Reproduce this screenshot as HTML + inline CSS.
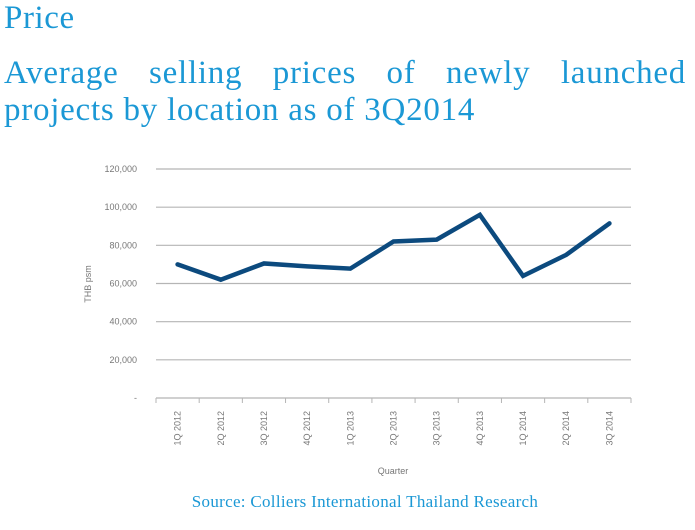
<!DOCTYPE html>
<html><head><meta charset="utf-8"><style>
body{margin:0;width:695px;height:530px;background:#fff;overflow:hidden;position:relative;font-family:"Liberation Serif",serif;color:#1b98d5}
#t1{position:absolute;left:4px;top:0px;font-size:33px;line-height:36px;letter-spacing:0.6px}
.tl{position:absolute;left:4px;width:682px;font-size:33px;line-height:37px;white-space:nowrap;letter-spacing:0.75px}
#t2a{top:55px;text-align:justify;text-align-last:justify}
#t2b{top:92px}
#src{position:absolute;left:0;width:730px;top:492px;text-align:center;font-size:17px;letter-spacing:0.3px}
svg{position:absolute;left:0;top:0}
</style></head><body>
<div id="t1">Price</div>
<div id="t2a" class="tl">Average selling prices of newly launched</div>
<div id="t2b" class="tl">projects by location as of 3Q2014</div>
<svg id="c" width="695" height="530"></svg>
<div id="src">Source: Colliers International Thailand Research</div>
<script>
const categories=["1Q 2012","2Q 2012","3Q 2012","4Q 2012","1Q 2013","2Q 2013","3Q 2013","4Q 2013","1Q 2014","2Q 2014","3Q 2014"];
const values=[70000,62000,70500,69000,67800,82000,83000,96000,64000,75000,91500];
const yTicks=[0,20000,40000,60000,80000,100000,120000];
const yTickLabels=["-","20,000","40,000","60,000","80,000","100,000","120,000"];
const NS="http://www.w3.org/2000/svg";
const svg=document.getElementById('c');
const L=156,R=631,T=169,B=398,ymax=120000;
const step=(R-L)/categories.length;
const xs=i=>L+step*(i+0.5);
const ys=v=>B-(v/ymax)*(B-T);
function mk(tag,attrs){const e=document.createElementNS(NS,tag);for(const k in attrs)e.setAttribute(k,attrs[k]);svg.appendChild(e);return e;}
yTicks.forEach((v,i)=>{
  if(v>0){const g=mk('line',{x1:L,x2:R,y1:ys(v),y2:ys(v),stroke:'#b5b5b5','stroke-width':1.2});
  
  }
  const t=mk('text',{x:137,y:ys(v)+3,'text-anchor':'end','font-size':9,fill:'#777','font-family':'Liberation Sans, sans-serif'});
  t.textContent=yTickLabels[i];
  
  
});
const ax=mk('line',{x1:L,x2:R,y1:B,y2:B,stroke:'#b5b5b5','stroke-width':1.2});


for(let i=0;i<=categories.length;i++){mk('line',{x1:L+step*i,x2:L+step*i,y1:B,y2:B+5,stroke:'#b5b5b5'});}
categories.forEach((c,i)=>{
  const t=mk('text',{transform:`translate(${xs(i)+3},${B+13}) rotate(-90)`,'text-anchor':'end','font-size':9,fill:'#777','font-family':'Liberation Sans, sans-serif'});
  t.textContent=c;
  
  
});
const p=mk('polyline',{points:values.map((v,i)=>xs(i)+','+ys(v)).join(' '),fill:'none',stroke:'#0c4a7e','stroke-width':4.5,'stroke-linejoin':'miter','stroke-linecap':'round'});


const yt=mk('text',{transform:'translate(91,284) rotate(-90)','text-anchor':'middle','font-size':9,fill:'#777','font-family':'Liberation Sans, sans-serif'});
yt.textContent='THB psm';


const xt=mk('text',{x:393,y:474,'text-anchor':'middle','font-size':9,fill:'#777','font-family':'Liberation Sans, sans-serif'});
xt.textContent='Quarter';


</script>
</body></html>
